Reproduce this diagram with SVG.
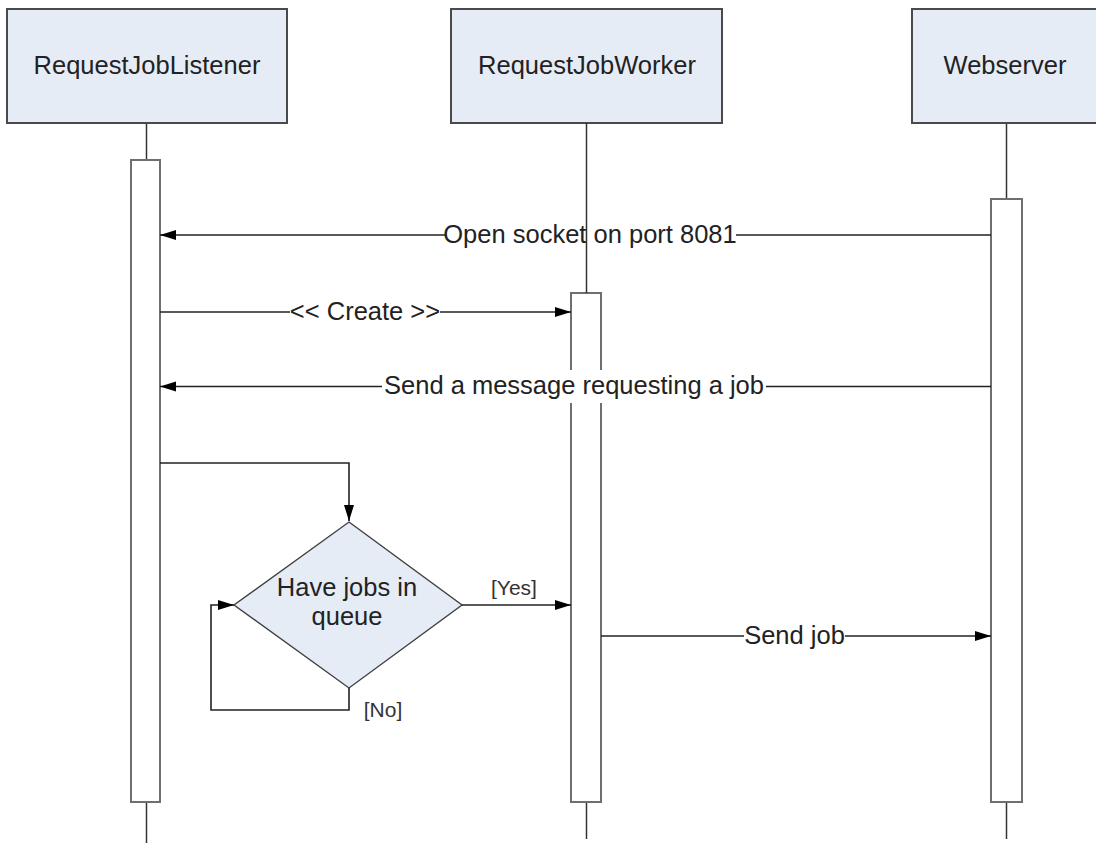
<svg xmlns="http://www.w3.org/2000/svg" width="1096" height="843" viewBox="0 0 1096 843">
  <style>
    .head { fill: #e6ecf6; stroke: #4a4a4a; stroke-width: 2; }
    .life { stroke: #333333; stroke-width: 1.5; fill: none; }
    .act { fill: #ffffff; stroke: #6f6f6f; stroke-width: 2; }
    .msg { stroke: #222222; stroke-width: 1.6; fill: none; }
    .dec { fill: #e6ecf6; stroke: #404040; stroke-width: 1.4; }
    .lbl-bg { fill: #ffffff; }
    text { font-family: "Liberation Sans", Arial, sans-serif; fill: #222222; }
    .t25 { font-size: 25.5px; }
    .t21 { font-size: 21px; fill: #333333; }
  </style>
  <defs>
    <marker id="arrow" markerUnits="userSpaceOnUse" viewBox="0 0 16 11" refX="16" refY="5.5" markerWidth="16" markerHeight="11" orient="auto">
      <path d="M0,0.5 L16,5.5 L0,10.5 z" fill="#000000"/>
    </marker>
  </defs>

  <rect width="1096" height="843" fill="#ffffff"/>

  <!-- lifelines -->
  <g id="lifelines">
    <line class="life" x1="146.5" y1="123" x2="146.5" y2="160"/>
    <line class="life" x1="146.5" y1="802" x2="146.5" y2="843"/>
    <line class="life" x1="586.5" y1="802" x2="586.5" y2="839"/>
    <line class="life" x1="1006.5" y1="123" x2="1006.5" y2="199"/>
    <line class="life" x1="1006.5" y1="802" x2="1006.5" y2="839"/>
  </g>

  <!-- participants -->
  <g id="listener">
    <rect class="head" x="7" y="9" width="280" height="114"/>
    <text class="t25" x="147" y="74" text-anchor="middle">RequestJobListener</text>
    <rect class="act" x="131" y="160" width="29" height="642"/>
  </g>
  <g id="worker">
    <rect class="head" x="451" y="9" width="271" height="114"/>
    <text class="t25" x="587" y="74" text-anchor="middle">RequestJobWorker</text>
    <rect class="act" x="571" y="293" width="30" height="509"/>
  </g>
  <g id="webserver">
    <rect class="head" x="912" y="9" width="190" height="114"/>
    <text class="t25" x="1005" y="74" text-anchor="middle">Webserver</text>
    <rect class="act" x="991" y="199" width="31" height="603"/>
  </g>

  <!-- decision -->
  <g id="decision">
    <polygon class="dec" points="349,522 462,605 349,688 234,605"/>
    <text class="t25" x="347" y="596" text-anchor="middle">Have jobs in</text>
    <text class="t25" x="347" y="625" text-anchor="middle">queue</text>
  </g>

  <!-- messages and flows -->
  <g id="connectors">
    <line class="msg" x1="991" y1="235" x2="160" y2="235" marker-end="url(#arrow)"/>
    <rect class="lbl-bg" x="445" y="220" width="291" height="31"/>
    <text class="t25" x="590" y="243" text-anchor="middle">Open socket on port 8081</text>

    <line class="msg" x1="160" y1="312" x2="571" y2="312" marker-end="url(#arrow)"/>
    <rect class="lbl-bg" x="290" y="297" width="150" height="31"/>
    <text class="t25" x="365" y="320" text-anchor="middle">&lt;&lt; Create &gt;&gt;</text>

    <line class="msg" x1="991" y1="386.5" x2="160" y2="386.5" marker-end="url(#arrow)"/>
    <rect class="lbl-bg" x="382" y="370" width="384" height="33"/>
    <text class="t25" x="574" y="394" text-anchor="middle">Send a message requesting a job</text>

    <polyline class="msg" points="160,463 349,463 349,521" marker-end="url(#arrow)"/>

    <line class="msg" x1="462" y1="605" x2="571" y2="605" marker-end="url(#arrow)"/>
    <text class="t21" x="514" y="595" text-anchor="middle">[Yes]</text>

    <polyline class="msg" points="349,688 349,710 211,710 211,605 234,605" marker-end="url(#arrow)"/>
    <text class="t21" x="383" y="717" text-anchor="middle">[No]</text>

    <line class="msg" x1="601" y1="636" x2="991" y2="636" marker-end="url(#arrow)"/>
    <rect class="lbl-bg" x="744" y="621" width="101" height="31"/>
    <text class="t25" x="794.5" y="644" text-anchor="middle">Send job</text>
  </g>

  <!-- worker lifeline above its activation, drawn over the first label -->
  <line class="life" x1="586.5" y1="123" x2="586.5" y2="293"/>
</svg>
